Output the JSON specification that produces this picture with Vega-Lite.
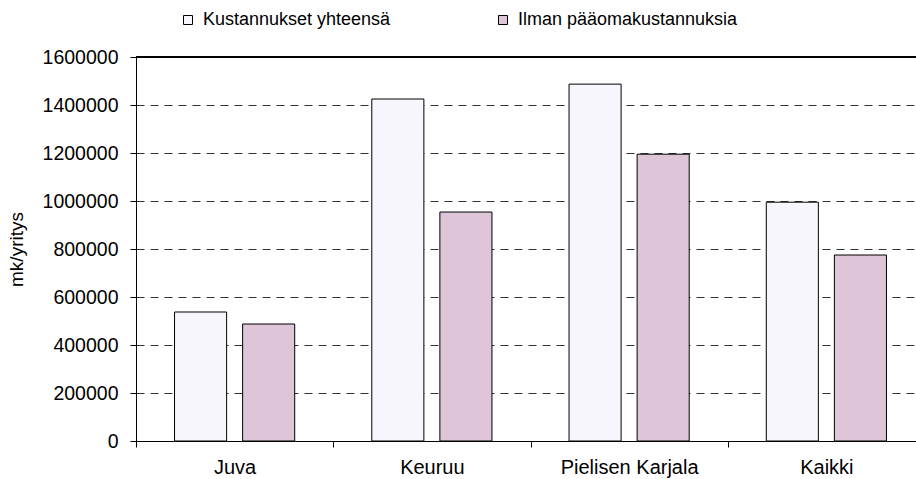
{
  "$schema": "https://vega.github.io/schema/vega-lite/v6.json",
  "autosize": {"type": "none"},
  "padding": {"left": 136, "top": 57, "right": 0, "bottom": 38},
  "width": 780,
  "height": 384,
  "background": "white",
  "config": {
    "view": {"stroke": null},
    "font": "Liberation Sans",
    "axis": {"labelFont": "Liberation Sans", "titleFont": "Liberation Sans", "labelColor": "black", "titleColor": "black", "domainColor": "black", "tickColor": "black"}
  },
  "data": {
    "values": [
      {"alue": "Juva", "sarja": "Kustannukset yhteensä", "arvo": 537500},
      {"alue": "Juva", "sarja": "Ilman pääomakustannuksia", "arvo": 487500},
      {"alue": "Keuruu", "sarja": "Kustannukset yhteensä", "arvo": 1425000},
      {"alue": "Keuruu", "sarja": "Ilman pääomakustannuksia", "arvo": 954000},
      {"alue": "Pielisen Karjala", "sarja": "Kustannukset yhteensä", "arvo": 1487000},
      {"alue": "Pielisen Karjala", "sarja": "Ilman pääomakustannuksia", "arvo": 1195000},
      {"alue": "Kaikki", "sarja": "Kustannukset yhteensä", "arvo": 995000},
      {"alue": "Kaikki", "sarja": "Ilman pääomakustannuksia", "arvo": 775000}
    ]
  },
  "layer": [
    {
      "mark": {"type": "bar", "stroke": "black", "strokeWidth": 1},
      "encoding": {
        "x": {
          "field": "alue", "type": "nominal",
          "sort": ["Juva", "Keuruu", "Pielisen Karjala", "Kaikki"],
          "scale": {"paddingInner": 0, "paddingOuter": 0, "range": [0, 789]},
          "axis": {"title": null, "labelAngle": 0, "tickBand": "extent", "tickSize": 6, "labelPadding": 10, "labelFontSize": 20, "grid": false, "domainWidth": 1}
        },
        "xOffset": {
          "field": "sarja", "type": "nominal",
          "sort": ["Kustannukset yhteensä", "Ilman pääomakustannuksia"],
          "scale": {"paddingInner": 0.235, "paddingOuter": 0.566}
        },
        "y": {
          "field": "arvo", "type": "quantitative",
          "scale": {"domain": [0, 1600000], "nice": false},
          "axis": {
            "title": "mk/yritys", "titleFontSize": 19, "titleFontWeight": "normal", "titlePadding": 16,
            "values": [0, 200000, 400000, 600000, 800000, 1000000, 1200000, 1400000, 1600000],
            "format": "d", "labelFontSize": 19.5, "labelPadding": 12, "tickSize": 6,
            "grid": true, "gridColor": "#333333", "gridDash": [8, 6], "gridWidth": 1
          }
        },
        "color": {
          "field": "sarja", "type": "nominal",
          "sort": ["Kustannukset yhteensä", "Ilman pääomakustannuksia"],
          "scale": {"domain": ["Kustannukset yhteensä", "Ilman pääomakustannuksia"], "range": ["#F7F6FC", "#DEC5D8"]},
          "legend": {
            "title": null, "orient": "none", "legendX": 43, "legendY": -46,
            "direction": "horizontal", "columns": 2, "columnPadding": 103,
            "symbolType": "square", "symbolSize": 81, "symbolStrokeColor": "black", "symbolStrokeWidth": 1,
            "symbolOpacity": 1, "labelFontSize": 18, "labelOffset": 6, "labelColor": "black", "labelFont": "Liberation Sans", "labelLimit": 400
          }
        }
      }
    },
    {
      "mark": {"type": "rule", "color": "black", "strokeWidth": 1},
      "encoding": {"y": {"datum": 1600000}}
    }
  ]
}
